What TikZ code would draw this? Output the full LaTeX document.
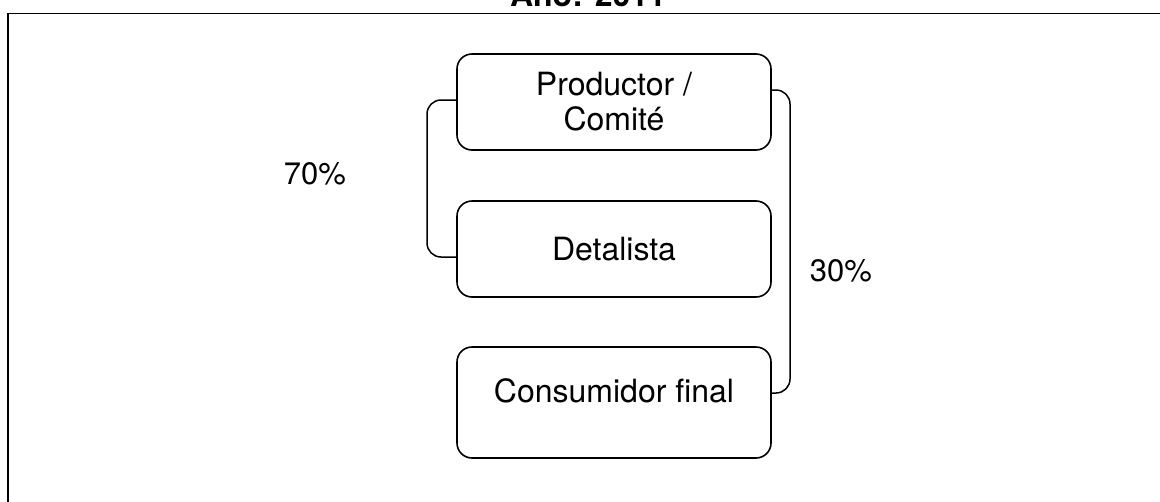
\documentclass[tikz,border=0pt]{standalone}
\usepackage{fontspec}
\setmainfont{TeX Gyre Heros}
\begin{document}
\begin{tikzpicture}[x=1pt,y=-1pt,
  stage/.style={draw, line width=1.6pt, rounded corners=15pt, minimum width=314pt, inner sep=0pt, align=center, font=\fontsize{32}{35}\selectfont},
  link/.style={draw, line width=1.5pt, rounded corners=14pt},
  pct/.style={font=\fontsize{31}{36}\selectfont, inner sep=0pt}]
\useasboundingbox (0,0) rectangle (1160,501);
% frame
\draw[line width=1.8pt] (8,520) -- (8,13.5) -- (1180,13.5);
% title (mostly cut off at the top)
\node[font=\bfseries\fontsize{32}{36}\selectfont, anchor=base, inner sep=0pt] (title) at (588,6) {Año: 2011};
% stages
\node[stage, minimum height=96pt] (prod) at (614,102) {Productor /\\Comité};
\node[stage, minimum height=96pt] (det) at (614,249) {Detalista};
\node[stage, minimum height=111pt, text depth=23pt] (cons) at (614,402.5) {Consumidor final};
% connectors
\coordinate (l1) at (427,100);
\coordinate (l2) at (427,257);
\coordinate (r1) at (790,90);
\coordinate (r2) at (790,393);
\draw[link] (prod.west |- l1) -- (l1) -- (l2) -- (det.west |- l2);
\draw[link] (prod.east |- r1) -- (r1) -- (r2) -- (cons.east |- r2);
% labels
\node[pct] (p70) at (315,174) {70\%};
\node[pct] (p30) at (841,271) {30\%};
\end{tikzpicture}
\end{document}
